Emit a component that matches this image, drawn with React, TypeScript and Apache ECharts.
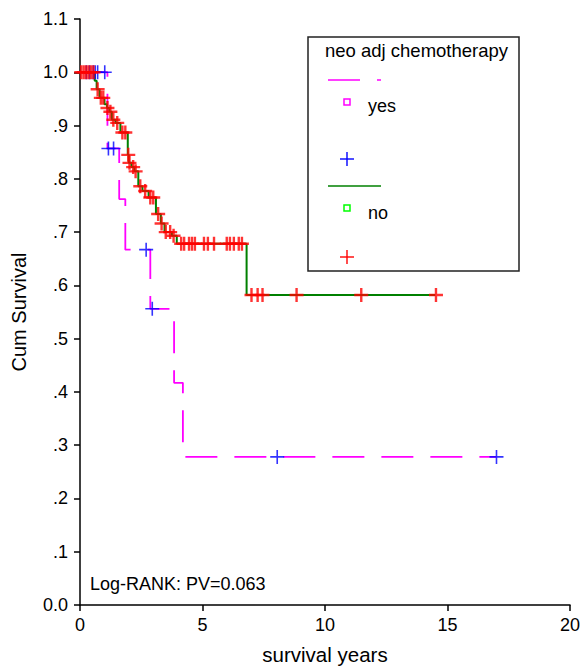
import React, { useEffect, useRef } from "react";
import * as echarts from "echarts";

// ---- data ----
const xTicks = [0, 5, 10, 15, 20];
const yesSteps: [number, number][] = [
  [1.12, 0.857],
  [1.6, 0.762],
  [1.85, 0.667],
  [2.87, 0.556],
  [3.84, 0.417],
  [4.2, 0.278],
];
const yesEnd = 17.0;
const yesCensored = [0.26, 0.39, 0.54, 0.62, 0.72, 1.01, 1.16, 1.37, 2.7, 2.95, 8.05, 17.0];

const noSteps: [number, number][] = [
  [0.6, 0.984],
  [0.68, 0.968],
  [0.8, 0.952],
  [1.0, 0.94],
  [1.1, 0.933],
  [1.2, 0.926],
  [1.3, 0.911],
  [1.45, 0.905],
  [1.65, 0.887],
  [1.95, 0.845],
  [1.99, 0.83],
  [2.1, 0.822],
  [2.22, 0.814],
  [2.38, 0.786],
  [2.55, 0.777],
  [2.8, 0.765],
  [3.1, 0.734],
  [3.3, 0.716],
  [3.45, 0.7],
  [3.75, 0.693],
  [3.95, 0.678],
  [6.8, 0.582],
];
const noEnd = 14.5;
const noCensored = [
  0.05, 0.15, 0.25, 0.35, 0.45, 0.55, 0.72, 0.85, 0.95, 1.12, 1.24, 1.36, 1.52, 1.73, 1.85,
  1.97, 2.02, 2.17, 2.27, 2.46, 2.66, 2.87, 2.99, 3.19, 3.33, 3.5, 3.68, 3.82, 4.13, 4.25,
  4.45, 4.57, 4.69, 5.06, 5.22, 5.47, 5.99, 6.12, 6.28, 6.48, 6.61, 7.0, 7.25, 7.45, 8.84,
  11.48, 14.53,
];

const FONT = "'Liberation Sans', Arial, sans-serif";

function curvePoints(steps: [number, number][], end: number): number[][] {
  const pts: number[][] = [[0, 1]];
  steps.forEach(([t, s]) => pts.push([t, s]));
  pts.push([end, steps[steps.length - 1][1]]);
  return pts;
}
function survivalAt(steps: [number, number][], t: number): number {
  let s = 1;
  for (const [ts, v] of steps) if (ts <= t) s = v;
  return s;
}
const plusThick = "path://M5.8,0 H8.2 V5.8 H14 V8.2 H8.2 V14 H5.8 V8.2 H0 V5.8 H5.8 Z";
const plusThin = "path://M6.2,0 H7.8 V6.2 H14 V7.8 H7.8 V14 H6.2 V7.8 H0 V6.2 H6.2 Z";

function plus(cx: number, cy: number, color: string, half: number, w: number) {
  return [
    { type: "line", shape: { x1: cx - half, y1: cy, x2: cx + half, y2: cy }, style: { stroke: color, lineWidth: w } },
    { type: "line", shape: { x1: cx, y1: cy - half, x2: cx, y2: cy + half }, style: { stroke: color, lineWidth: w } },
  ];
}

export default function App() {
  const ref = useRef<HTMLDivElement>(null);
  useEffect(() => {
    if (!ref.current) return;
    const chart = echarts.init(ref.current, null, { renderer: "svg" });
    const axisCommon = {
      axisLine: { show: true, onZero: false, lineStyle: { color: "#000", width: 1.5 } },
      axisTick: { show: true, length: 6, lineStyle: { color: "#000", width: 1.5 } },
      splitLine: { show: false },
    };
    const option: any = {
      animation: false,
      grid: { left: 80, right: 11, top: 19, bottom: 57 },
      xAxis: {
        type: "value",
        min: xTicks[0],
        max: xTicks[xTicks.length - 1],
        interval: 5,
        name: "survival years",
        nameLocation: "middle",
        nameGap: 39,
        nameTextStyle: { fontSize: 20.5, color: "#000", fontFamily: FONT },
        axisLabel: { fontSize: 18, color: "#000", margin: 11, fontFamily: FONT },
        ...axisCommon,
      },
      yAxis: {
        type: "value",
        min: 0,
        max: 1.1,
        interval: 0.1,
        name: "Cum Survival",
        nameLocation: "middle",
        nameGap: 51,
        nameTextStyle: { fontSize: 20, color: "#000", fontFamily: FONT },
        axisLabel: {
          fontSize: 18,
          color: "#000",
          margin: 12,
          fontFamily: FONT,
          formatter: (v: number) => {
            const s = v.toFixed(1);
            return v > 0 && v < 1 ? s.slice(1) : s;
          },
        },
        ...axisCommon,
      },
      series: [
        {
          type: "line",
          step: "end",
          data: curvePoints(yesSteps, yesEnd),
          showSymbol: false,
          lineStyle: { color: "#ff00ff", width: 1.8, type: [32, 17] },
          z: 2,
        },
        {
          type: "line",
          step: "end",
          data: curvePoints(noSteps, noEnd),
          showSymbol: false,
          lineStyle: { color: "#008000", width: 2 },
          z: 2,
        },
        {
          type: "scatter",
          data: yesCensored.map((t) => [t, survivalAt(yesSteps, t)]),
          symbol: plusThin,
          symbolSize: 14,
          itemStyle: { color: "#0000ff" },
          z: 3,
        },
        {
          type: "scatter",
          data: noCensored.map((t) => [t, survivalAt(noSteps, t)]),
          symbol: plusThick,
          symbolSize: 14,
          itemStyle: { color: "#ff0000" },
          z: 4,
        },
      ],
      graphic: [
        {
          type: "text",
          x: 90,
          y: 584,
          style: { text: "Log-RANK: PV=0.063", fontSize: 18, fill: "#000", fontFamily: FONT, verticalAlign: "middle" },
        },
        {
          type: "rect",
          shape: { x: 308, y: 37, width: 211, height: 234 },
          style: { fill: "#fff", stroke: "#222", lineWidth: 1.5 },
          z: 10,
        },
        {
          type: "text",
          x: 325,
          y: 50,
          z: 11,
          style: { text: "neo adj chemotherapy", fontSize: 18.5, fill: "#000", fontFamily: FONT, verticalAlign: "middle" },
        },
        {
          type: "line",
          z: 11,
          shape: { x1: 328, y1: 80, x2: 381, y2: 80 },
          style: { stroke: "#ff00ff", lineWidth: 1.5, lineDash: [32, 17] },
        },
        {
          type: "rect",
          z: 11,
          shape: { x: 344, y: 99, width: 6, height: 6 },
          style: { fill: "none", stroke: "#ff00ff", lineWidth: 1.5 },
        },
        {
          type: "text",
          x: 368,
          y: 106,
          z: 11,
          style: { text: "yes", fontSize: 18, fill: "#000", fontFamily: FONT, verticalAlign: "middle" },
        },
        ...plus(347, 159, "#0000ff", 7, 1.4).map((e) => ({ ...e, z: 11 })),
        {
          type: "line",
          z: 11,
          shape: { x1: 328, y1: 186, x2: 381, y2: 186 },
          style: { stroke: "#008000", lineWidth: 1.5 },
        },
        {
          type: "rect",
          z: 11,
          shape: { x: 344, y: 205, width: 6, height: 6 },
          style: { fill: "none", stroke: "#00ff00", lineWidth: 1.5 },
        },
        {
          type: "text",
          x: 368,
          y: 213,
          z: 11,
          style: { text: "no", fontSize: 18, fill: "#000", fontFamily: FONT, verticalAlign: "middle" },
        },
        ...plus(347, 257, "#ff0000", 7, 1.4).map((e) => ({ ...e, z: 11 })),
      ],
    };
    chart.setOption(option);
    return () => chart.dispose();
  }, []);
  return <div ref={ref} style={{ position: "absolute", left: 0, top: 0, width: 583, height: 670 }} />;
}
